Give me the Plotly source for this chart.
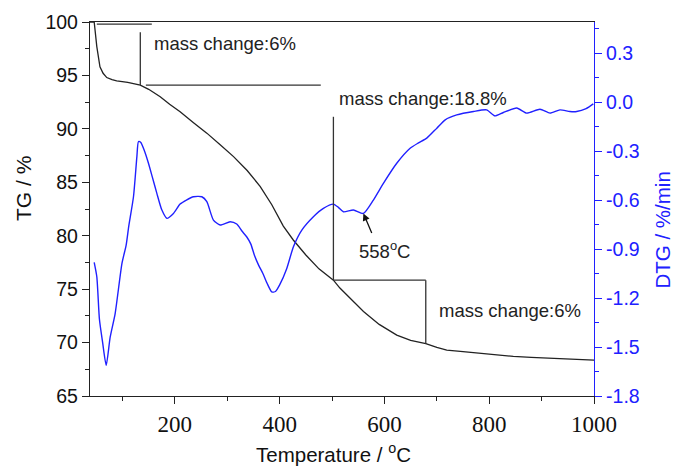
import plotly.graph_objects as go

# TG curve (left axis, %)
tg_temp = [38, 46, 51, 57, 63, 70, 80, 89, 110, 134, 150, 172, 190, 210, 235, 261, 287, 312, 338, 363, 385, 407, 426, 450, 475, 502.6, 515, 540, 560, 590, 623.5, 650, 679, 700, 719, 750, 782.5, 815, 846, 880, 909, 950, 992, 1000]
tg_val = [100, 100, 97.7, 95.8, 95.2, 94.8, 94.6, 94.5, 94.35, 94.1, 93.7, 93.0, 92.3, 91.6, 90.6, 89.6, 88.5, 87.4, 86.1, 84.6, 82.9, 80.9, 79.6, 78.2, 76.9, 75.84, 75.1, 73.9, 72.9, 71.7, 70.7, 70.2, 69.9, 69.55, 69.3, 69.15, 69.0, 68.85, 68.7, 68.62, 68.55, 68.45, 68.35, 68.35]

# DTG curve (right axis, %/min)
dtg_temp = [46, 51, 56, 62, 68.9, 76.5, 86, 99, 107, 112, 121, 127.5, 130.5, 135, 142, 149.6, 157, 165.6, 175, 184.7, 197.3, 210, 222, 235.5, 251.5, 261, 273.6, 286.4, 305.5, 318, 328, 337, 345, 352, 360, 368, 376, 385, 392, 400, 413.6, 426.3, 442.3, 464.4, 483.5, 502.6, 512, 521.7, 540.8, 559.8, 578.9, 598, 623.5, 649, 665, 680.8, 700, 716, 738, 770, 795, 811, 827, 852.5, 871.6, 897, 916, 935, 954, 967, 985, 998.7]
dtg_val = [-0.982, -1.07, -1.33, -1.47, -1.612, -1.44, -1.295, -0.988, -0.876, -0.76, -0.58, -0.334, -0.242, -0.248, -0.30, -0.375, -0.46, -0.559, -0.66, -0.712, -0.682, -0.625, -0.60, -0.58, -0.58, -0.61, -0.723, -0.753, -0.733, -0.747, -0.79, -0.825, -0.87, -0.94, -1.00, -1.05, -1.11, -1.163, -1.16, -1.12, -1.019, -0.886, -0.784, -0.702, -0.651, -0.625, -0.645, -0.672, -0.661, -0.682, -0.6, -0.498, -0.375, -0.283, -0.25, -0.221, -0.16, -0.109, -0.079, -0.058, -0.048, -0.085, -0.064, -0.037, -0.068, -0.044, -0.068, -0.048, -0.058, -0.058, -0.04, -0.011]

# Tick labels
x_ticks = [200, 400, 600, 800, 1000]
x_labels = ["200", "400", "600", "800", "1000"]
y_ticks = [65, 70, 75, 80, 85, 90, 95, 100]
y2_ticks = [-1.8, -1.5, -1.2, -0.9, -0.6, -0.3, 0.0, 0.3]
y2_labels = ["-1.8", "-1.5", "-1.2", "-0.9", "-0.6", "-0.3", "0.0", "0.3"]

# Mass-change bracket lines (temperature, TG %)
step1_top_x = [51, 156]; step1_top_y = 99.8
step1_vert_x = 134; step1_vert_y = [99.05, 94.1]
step1_base_x = [144.6, 478.5]; step1_base_y = 94.1
step2_vert_x = 502.6; step2_vert_y = [91.13, 75.84]
step2_base_x = [502.6, 678.9]; step2_base_y = 75.84
step3_vert_x = 678.9; step3_vert_y = [75.84, 69.9]

labels_text = ["mass change:6%", "mass change:18.8%", "mass change:6%"]
labels_x = [156.7, 509, 700]
labels_y = [98.0, 92.8, 73.0]

peak_temp = 559.8
peak_dtg = -0.682

fig = go.Figure()
fig.add_trace(go.Scatter(x=tg_temp, y=tg_val, mode="lines",
                         line=dict(color="#222222", width=1.3), showlegend=False))
fig.add_trace(go.Scatter(x=dtg_temp, y=dtg_val, mode="lines", yaxis="y2",
                         line=dict(color="#2020ff", width=1.4, shape="spline", smoothing=0.6),
                         showlegend=False))

line_style = dict(color="#333333", width=1.3)
shapes = [
    dict(type="line", xref="x", yref="y", x0=step1_top_x[0], x1=step1_top_x[1], y0=step1_top_y, y1=step1_top_y, line=line_style),
    dict(type="line", xref="x", yref="y", x0=step1_vert_x, x1=step1_vert_x, y0=step1_vert_y[0], y1=step1_vert_y[1], line=line_style),
    dict(type="line", xref="x", yref="y", x0=step1_base_x[0], x1=step1_base_x[1], y0=step1_base_y, y1=step1_base_y, line=line_style),
    dict(type="line", xref="x", yref="y", x0=step2_vert_x, x1=step2_vert_x, y0=step2_vert_y[0], y1=step2_vert_y[1], line=line_style),
    dict(type="line", xref="x", yref="y", x0=step2_base_x[0], x1=step2_base_x[1], y0=step2_base_y, y1=step2_base_y, line=line_style),
    dict(type="line", xref="x", yref="y", x0=step3_vert_x, x1=step3_vert_x, y0=step3_vert_y[0], y1=step3_vert_y[1], line=line_style),
]

SANS = "Liberation Sans"
SERIF = "Liberation Serif"

annotations = []
for t, x, y in zip(labels_text, labels_x, labels_y):
    annotations.append(dict(text=t, x=x, y=y, xref="x", yref="y", showarrow=False,
                            xanchor="left", yanchor="middle",
                            font=dict(family=SANS, size=18.5, color="#222222")))

annotations.append(dict(text="558<sup>o</sup>C", x=547, y=78.65, xref="x", yref="y", showarrow=False,
                        xanchor="left", yanchor="middle",
                        font=dict(family=SANS, size=18.5, color="#222222")))
annotations.append(dict(text="", x=peak_temp, y=peak_dtg, xref="x", yref="y2",
                        ax=9, ay=21, axref="pixel", ayref="pixel", showarrow=True,
                        arrowhead=2, arrowsize=1.1, arrowwidth=1.3, arrowcolor="#111111"))

annotations.append(dict(text="Temperature / <sup>o</sup>C", x=0.484, y=-0.153, xref="paper", yref="paper",
                        showarrow=False, xanchor="center", yanchor="middle",
                        font=dict(family=SANS, size=20.5, color="#111111")))
annotations.append(dict(text="TG / %", x=-0.133, y=0.556, xref="paper", yref="paper", textangle=-90,
                        showarrow=False, xanchor="center", yanchor="middle",
                        font=dict(family=SANS, size=21, color="#111111")))
annotations.append(dict(text="DTG / %/min", x=1.136, y=0.444, xref="paper", yref="paper", textangle=-90,
                        showarrow=False, xanchor="center", yanchor="middle",
                        font=dict(family=SANS, size=20.5, color="#2020ff")))

fig.update_layout(
    width=676, height=467,
    margin=dict(l=90, r=82, t=22, b=71),
    paper_bgcolor="white", plot_bgcolor="white",
    font=dict(family=SANS),
    shapes=shapes, annotations=annotations,
    xaxis=dict(range=[38, 1000], tickvals=x_ticks, ticktext=x_labels, ticks="outside", ticklen=7, tickwidth=1.2,
               tickcolor="#222222", showline=True, linecolor="#222222", linewidth=1.3, mirror=True,
               showgrid=False, zeroline=False,
               tickfont=dict(family=SERIF, size=23, color="#111111"),
               minor=dict(tickvals=[100, 300, 500, 700, 900], ticks="outside", ticklen=4, tickcolor="#222222")),
    yaxis=dict(range=[65, 100], tickvals=y_ticks, ticks="outside", ticklen=7, tickwidth=1.2,
               tickcolor="#222222", showline=True, linecolor="#222222", linewidth=1.3,
               showgrid=False, zeroline=False,
               tickfont=dict(family=SANS, size=19.5, color="#111111"),
               minor=dict(tickvals=[67.5, 72.5, 77.5, 82.5, 87.5, 92.5, 97.5], ticks="outside", ticklen=4, tickcolor="#222222")),
    yaxis2=dict(range=[-1.8, 0.49], overlaying="y", side="right", tickvals=y2_ticks, ticktext=y2_labels,
                ticks="outside", ticklen=7, tickwidth=1.2, tickcolor="#2020ff",
                showline=True, linecolor="#2020ff", linewidth=1.3, showgrid=False, zeroline=False,
                tickfont=dict(family=SANS, size=19.5, color="#2020ff"),
                minor=dict(tickvals=[-1.65, -1.35, -1.05, -0.75, -0.45, -0.15, 0.15, 0.45], ticks="outside", ticklen=4, tickcolor="#2020ff")),
)

fig.write_html("out.html")
